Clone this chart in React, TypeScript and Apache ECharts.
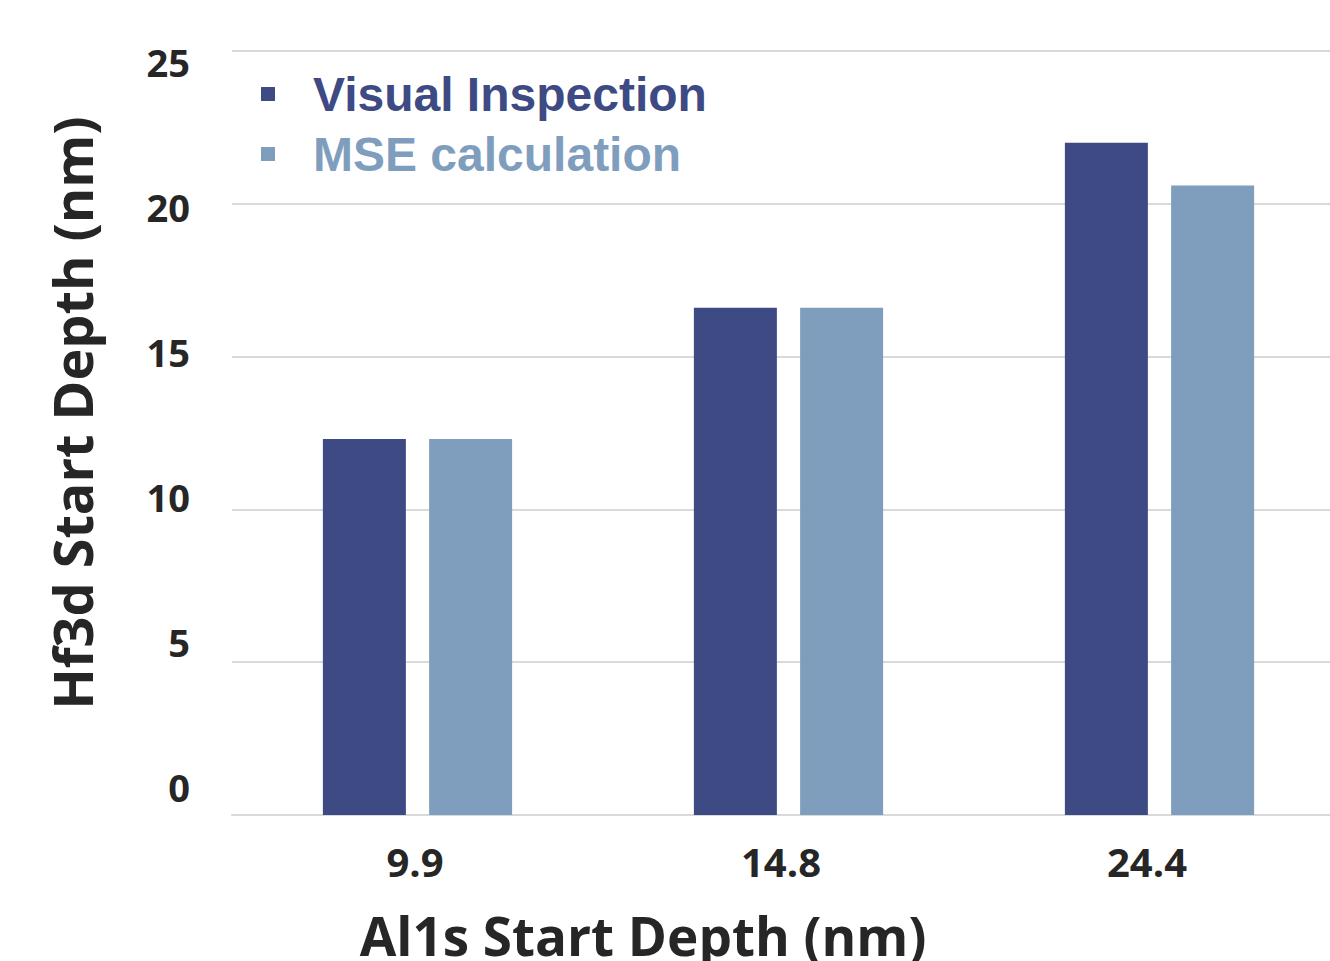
import React, { useEffect, useRef } from "react";
import * as echarts from "echarts";

const categories = ["9.9", "14.8", "24.4"];
const visualInspection = [12.3, 16.6, 22.0];
const mseCalculation = [12.3, 16.6, 20.6];
const seriesNames = ["Visual Inspection", "MSE calculation"];
const xTitle = "Al1s Start Depth (nm)";
const yTitle = "Hf3d Start Depth (nm)";

const DARK = "#3d4a84";
const LIGHT = "#7f9ebd";
const TEXT = "#262626";
const FONT = "'Open Sans', 'Noto Sans', sans-serif";

export default function App() {
  const ref = useRef<HTMLDivElement>(null);
  useEffect(() => {
    if (!ref.current) return;
    const chart = echarts.init(ref.current, undefined, { renderer: "svg" });
    chart.setOption({
      animation: false,
      backgroundColor: "#ffffff",
      grid: [
        { left: 232, right: 0, top: 51, bottom: 146 },
        { left: 232, right: 15, top: 62, bottom: 174 },
      ],
      legend: {
        orient: "vertical",
        left: 256,
        top: 65,
        icon: "rect",
        itemWidth: 14,
        itemHeight: 14,
        itemGap: 12,
        data: [
          { name: seriesNames[0], textStyle: { color: DARK } },
          { name: seriesNames[1], textStyle: { color: LIGHT } },
        ],
        textStyle: {
          fontFamily: "'Liberation Sans', Arial, sans-serif",
          fontWeight: "bold",
          fontSize: 48,
          lineHeight: 46,
          padding: [0, 0, 0, 33],
        },
      },
      xAxis: [
        {
          type: "category",
          gridIndex: 0,
          data: categories,
          axisTick: { show: false },
          axisLine: { lineStyle: { color: "#d9d9d9", width: 2 } },
          axisLabel: { show: false },
        },
        {
          type: "category",
          gridIndex: 1,
          data: categories,
          axisTick: { show: false },
          axisLine: { show: false },
          splitLine: { show: false },
          axisLabel: {
            color: TEXT,
            fontFamily: FONT,
            fontWeight: "bold",
            fontSize: 40,
            margin: 54,
          },
        },
      ],
      yAxis: [
        {
          type: "value",
          gridIndex: 0,
          min: 0,
          max: 25,
          interval: 5,
          axisLabel: { show: false },
          axisLine: { show: false },
          axisTick: { show: false },
          splitLine: { lineStyle: { color: "#d9d9d9", width: 2 } },
        },
        {
          type: "value",
          gridIndex: 1,
          min: 0,
          max: 25,
          interval: 5,
          axisLine: { show: false },
          axisTick: { show: false },
          splitLine: { show: false },
          axisLabel: {
            color: TEXT,
            fontFamily: FONT,
            fontWeight: "bold",
            fontSize: 38,
            margin: 42,
          },
        },
      ],
      series: [
        {
          name: seriesNames[0],
          type: "bar",
          xAxisIndex: 0,
          yAxisIndex: 0,
          data: visualInspection,
          barWidth: 83,
          barGap: "28%",
          itemStyle: { color: DARK },
        },
        {
          name: seriesNames[1],
          type: "bar",
          xAxisIndex: 0,
          yAxisIndex: 0,
          data: mseCalculation,
          barWidth: 83,
          barGap: "28%",
          itemStyle: { color: LIGHT },
        },
      ],
      graphic: [
        {
          type: "text",
          x: 643,
          y: 935,
          style: {
            text: xTitle,
            fill: TEXT,
            font: `bold 53px ${FONT}`,
            textAlign: "center",
            textVerticalAlign: "middle",
          },
        },
        {
          type: "text",
          x: 72,
          y: 413,
          rotation: Math.PI / 2,
          style: {
            text: yTitle,
            fill: TEXT,
            font: `bold 54px ${FONT}`,
            textAlign: "center",
            textVerticalAlign: "middle",
          },
        },
      ],
    });
    return () => chart.dispose();
  }, []);
  return (
    <div
      ref={ref}
      style={{ position: "fixed", left: 0, top: 0, width: 1345, height: 961 }}
    />
  );
}
